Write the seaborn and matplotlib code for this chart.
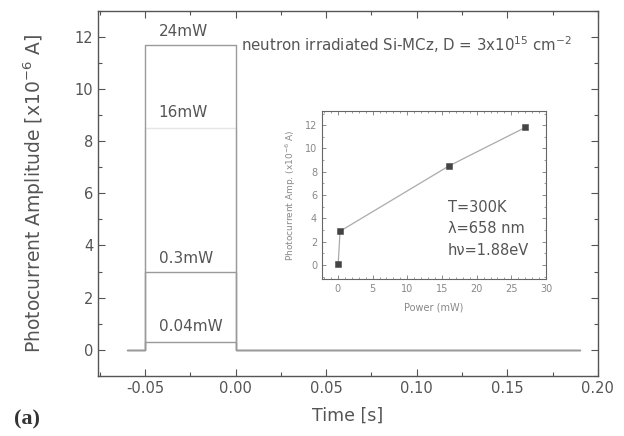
import numpy as np
import pandas as pd
import matplotlib
matplotlib.use("Agg")
import matplotlib.pyplot as plt
import seaborn as sns

# Photocurrent pulse levels for each laser power (x10^-6 A)
power_labels = ["24mW", "16mW", "0.3mW", "0.04mW"]
pulse_levels = [11.7, 8.5, 3.0, 0.28]
trace_alpha = [1.0, 0.25, 1.0, 1.0]

# Timing of the recorded trace (s)
t_record_start = -0.06
t_pulse_on = -0.05
t_pulse_off = 0.0
t_record_end = 0.19

# Amplitude vs. power (inset)
inset_power = [0.04, 0.3, 16.0, 27.0]
inset_amp = [0.1, 2.9, 8.5, 11.8]

sns.set_theme(style="ticks")
plt.rcParams["font.family"] = ["DejaVu Sans"]

ink = "#555555"
line_gray = "#9a9a9a"

fig = plt.figure(figsize=(6.24, 4.36), dpi=100)
ax = fig.add_axes([0.157, 0.138, 0.801, 0.837])

rows = []
for lab, lvl in zip(power_labels, pulse_levels):
    t = [t_record_start, t_pulse_on, t_pulse_on, t_pulse_off, t_pulse_off, t_record_end]
    a = [0.0, 0.0, lvl, lvl, 0.0, 0.0]
    for ti, ai in zip(t, a):
        rows.append({"power": lab, "time": ti, "amp": ai})
traces = pd.DataFrame(rows)

for lab, alpha in zip(power_labels, trace_alpha):
    sub = traces[traces["power"] == lab]
    sns.lineplot(data=sub, x="time", y="amp", ax=ax, color=line_gray,
                 lw=1.0, alpha=alpha, sort=False, estimator=None)

ax.set_xlim(-0.076, 0.20)
ax.set_ylim(-1.0, 13.0)
ax.set_xticks([-0.05, 0.0, 0.05, 0.10, 0.15, 0.20])
ax.set_xticklabels(["-0.05", "0.00", "0.05", "0.10", "0.15", "0.20"])
ax.set_yticks([0, 2, 4, 6, 8, 10, 12])
ax.xaxis.set_minor_locator(matplotlib.ticker.MultipleLocator(0.025))
ax.yaxis.set_minor_locator(matplotlib.ticker.MultipleLocator(1))
ax.tick_params(which="both", direction="in", top=True, right=True,
               color=ink, labelcolor=ink, labelsize=10.5)
ax.tick_params(which="major", length=5, width=0.8)
ax.tick_params(which="minor", length=3, width=0.8)
for sp in ax.spines.values():
    sp.set_color(ink)
    sp.set_linewidth(1.0)

ax.set_xlabel("Time [s]", color=ink, fontsize=12.5, labelpad=8)
ax.set_ylabel("Photocurrent Amplitude [x10$^{-6}$ A]", color=ink, fontsize=13.5, labelpad=20)

label_pos = {"24mW": 12.2, "16mW": 9.1, "0.3mW": 3.5, "0.04mW": 0.9}
for lab in power_labels:
    ax.text(-0.0425, label_pos[lab], lab, color=ink, fontsize=11, va="center", ha="left")

ax.text(0.003, 11.72, "neutron irradiated Si-MCz, D = 3x10$^{15}$ cm$^{-2}$",
        color=ink, fontsize=10.8, va="center", ha="left")

fig.text(0.022, 0.037, "(a)", fontsize=16, fontweight="bold",
         family=["Liberation Serif", "DejaVu Serif"], color="#333333",
         va="center", ha="left")

# Inset: amplitude versus optical power
ins = fig.add_axes([0.516, 0.360, 0.359, 0.385])
inset_df = pd.DataFrame({"power": inset_power, "amp": inset_amp})
sns.lineplot(data=inset_df, x="power", y="amp", ax=ins, color="#aaaaaa",
             lw=0.9, sort=False, estimator=None)
sns.scatterplot(data=inset_df, x="power", y="amp", ax=ins, marker="s",
                s=22, color="#444444", edgecolor="#444444", zorder=3)
ins.set_xlim(-2.3, 30)
ins.set_ylim(-1.2, 13.2)
ins.set_xticks([0, 5, 10, 15, 20, 25, 30])
ins.set_yticks([0, 2, 4, 6, 8, 10, 12])
ins.xaxis.set_minor_locator(matplotlib.ticker.MultipleLocator(1))
ins.yaxis.set_minor_locator(matplotlib.ticker.MultipleLocator(1))
ins.tick_params(which="both", direction="in", top=True, right=True,
                color="#777777", labelcolor="#888888", labelsize=7)
ins.tick_params(which="major", length=3, width=0.6)
ins.tick_params(which="minor", length=1.5, width=0.5)
for sp in ins.spines.values():
    sp.set_color("#666666")
    sp.set_linewidth(0.8)
ins.set_xlabel("Power (mW)", color="#888888", fontsize=7, labelpad=6)
ins.set_ylabel("Photocurrent Amp. (x10$^{-6}$ A)", color="#888888", fontsize=6.5, labelpad=5)
ins.text(15.8, 5.6, "T=300K\n\u03bb=658 nm\nh\u03bd=1.88eV", color=ink,
         fontsize=10.5, va="top", ha="left", linespacing=1.55)

fig.savefig("out.png", dpi=100, facecolor="white")
